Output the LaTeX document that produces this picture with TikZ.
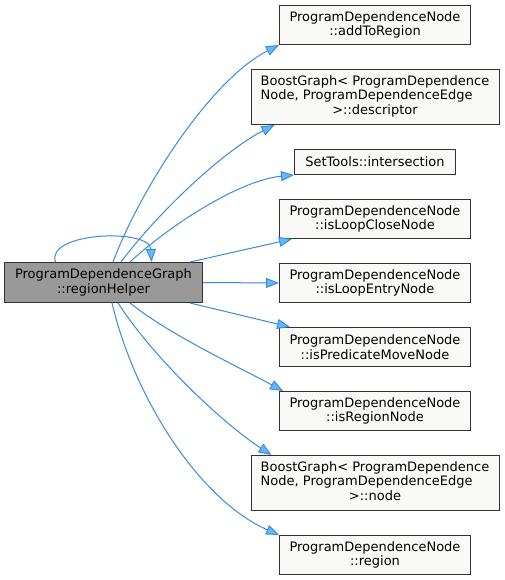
\documentclass[tikz,border=0pt]{standalone}
\usepackage{fontspec}
\setmainfont{DejaVu Sans}
\usepackage{tikz}
\usetikzlibrary{positioning,arrows.meta,calc}
\definecolor{edgeblue}{HTML}{3A8AD6}
\definecolor{tipblue}{HTML}{63B8FF}
\definecolor{nodefill}{HTML}{F9FAF8}
\definecolor{curfill}{HTML}{999999}
\definecolor{nodeline}{HTML}{333333}
\tikzset{
  fn/.style={rectangle,draw=nodeline,line width=1pt,fill=nodefill,inner sep=0pt,minimum width=191pt,minimum height=39pt,align=center,font=\fontsize{13pt}{14.5pt}\selectfont},
  widefn/.style={fn,minimum width=248pt,minimum height=55pt},
  current/.style={fn,fill=curfill,minimum width=198pt,minimum height=40pt},
  arrow/.style={-{Triangle[length=13pt,width=10pt,fill=tipblue]},draw=edgeblue,line width=1pt}
}

\begin{document}
\begin{tikzpicture}[x=1pt,y=-1pt,node distance=24pt]
  \useasboundingbox (0,0) rectangle (505,580);

  \node[fn] (addreg) at (375,25) {ProgramDependenceNode\\::addToRegion};
  \node[widefn, below=of addreg] (desc) {\begin{tabular}{@{}l@{}}BoostGraph< ProgramDependence\\Node, ProgramDependenceEdge\\\multicolumn{1}{@{}c@{}}{>::descriptor}\end{tabular}};
  \node[fn, minimum width=161pt, minimum height=25pt, below=of desc] (isect) {SetTools::intersection};
  \node[fn, below=of isect] (loopclose) {ProgramDependenceNode\\::isLoopCloseNode};
  \node[fn, below=of loopclose] (loopentry) {ProgramDependenceNode\\::isLoopEntryNode};
  \node[fn, below=of loopentry] (predmove) {ProgramDependenceNode\\::isPredicateMoveNode};
  \node[fn, below=of predmove] (isregion) {ProgramDependenceNode\\::isRegionNode};
  \node[widefn, below=of isregion] (bgnode) {\begin{tabular}{@{}l@{}}BoostGraph< ProgramDependence\\Node, ProgramDependenceEdge\\\multicolumn{1}{@{}c@{}}{>::node}\end{tabular}};
  \node[fn, below=of bgnode] (region) {ProgramDependenceNode\\::region};

  \node[current] (helper) at (103.5,282.5) {ProgramDependenceGraph\\::regionHelper};

  \draw[arrow] ([xshift=-48pt]helper.north) .. controls (45,232) and (150,228) .. ([xshift=48pt]helper.north);
  \draw[arrow] ([xshift=9.5pt]helper.north) .. controls (140,190) and (210,80) .. (addreg.south west);
  \draw[arrow] ([xshift=17.5pt]helper.north) .. controls (160,210) and (225,150) .. ([xshift=24pt]desc.south west);
  \draw[arrow] ([xshift=26.5pt]helper.north) .. controls (170,225) and (240,180) .. (isect.south west);
  \draw[arrow] ([xshift=-13pt]helper.north east) -- ([xshift=13pt]loopclose.south west);
  \draw[arrow] (helper.east) -- (loopentry.west);
  \draw[arrow] ([xshift=-13pt]helper.south east) -- ([xshift=11pt]predmove.north west);
  \draw[arrow] ([xshift=26.5pt]helper.south) .. controls (170,335) and (235,365) .. ([xshift=4pt]isregion.north west);
  \draw[arrow] ([xshift=14.5pt]helper.south) .. controls (155,360) and (225,425) .. ([xshift=21pt]bgnode.north west);
  \draw[arrow] ([xshift=8.5pt]helper.south) .. controls (135,400) and (200,500) .. (region.north west);
\end{tikzpicture}
\end{document}
